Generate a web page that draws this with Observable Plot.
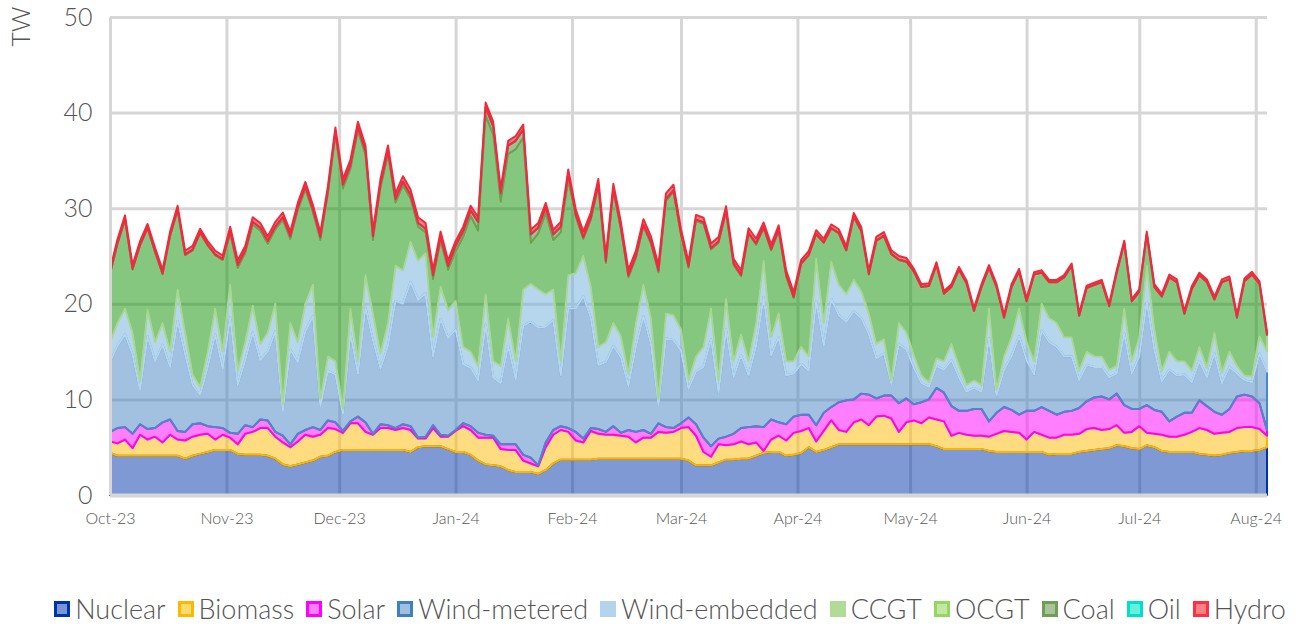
<!DOCTYPE html>
<html>
<head>
<meta charset="utf-8">
<script src="https://cdn.jsdelivr.net/npm/d3@7"></script>
<script src="https://cdn.jsdelivr.net/npm/@observablehq/plot@0.6"></script>
<style>
  html, body { margin: 0; padding: 0; background: #fff; }
  #chart { width: 1302px; height: 540px; }
  #legend { display: flex; justify-content: center; align-items: center; gap: 12px; padding-left: 38px;
    margin-top: 52px; font-family: Lato, "Open Sans", sans-serif; font-size: 27px; color: #555; font-weight: 300; }
  .item { display: flex; align-items: center; gap: 5px; }
  .sw { width: 16px; height: 16px; box-sizing: border-box; border: 3px solid; }
</style>
</head>
<body>
<div id="chart"></div>
<div id="legend"></div>
<script>
// Every 2 days from 1 Oct 2023 (155 points), values in TW
const startDate = "2023-10-01";
const stepDays = 2;

const nuclear = [4.4,4.1,4.1,4.1,4.1,4.1,4.1,4.1,4.1,4.1,3.8,4.1,4.3,4.5,4.7,4.7,
 4.7,4.3,4.2,4.2,4.2,4.1,3.8,3.2,3.0,3.2,3.4,3.6,4.0,4.1,4.5,
 4.7,4.7,4.7,4.7,4.7,4.7,4.7,4.7,4.7,4.5,5.0,5.1,5.1,5.1,4.8,
 4.5,4.5,4.2,3.6,3.2,3.1,3.0,2.6,2.4,2.4,2.4,2.2,2.6,3.3,3.7,3.7,
 3.7,3.7,3.7,3.8,3.8,3.8,3.8,3.8,3.8,3.8,3.8,3.8,3.8,3.8,
 3.8,3.6,3.1,3.1,3.1,3.4,3.7,3.7,3.8,3.8,4.1,4.4,4.5,4.5,4.1,4.2,
 4.4,5.0,4.5,4.7,5.0,5.3,5.3,5.3,5.3,5.3,5.3,5.3,5.3,5.3,5.3,
 5.3,5.3,5.3,5.1,4.8,4.8,4.8,4.8,4.8,4.8,4.6,4.5,4.5,4.5,4.5,4.5,
 4.5,4.5,4.2,4.3,4.3,4.3,4.5,4.6,4.7,4.8,4.9,5.2,5.1,4.9,4.8,
 5.2,5.0,4.6,4.5,4.5,4.5,4.5,4.3,4.2,4.1,4.2,4.4,4.5,4.6,4.6,
 4.7,5.0];

const biomass = [1.2,1.3,1.7,0.8,2.2,1.7,2.0,1.4,2.2,1.7,1.9,2.0,2.0,1.9,1.1,1.6,
 1.3,1.0,2.2,2.4,2.8,2.9,2.3,2.3,2.0,2.4,2.9,2.5,2.3,2.9,2.4,
 1.8,2.8,2.8,1.9,1.6,2.3,2.3,2.1,2.3,2.3,0.9,0.8,1.9,1.0,1.3,
 2.2,2.7,2.6,2.4,2.8,2.9,1.8,2.1,2.3,1.2,0.9,0.8,2.4,3.0,3.1,2.9,
 2.0,1.8,3.0,2.6,2.5,2.5,2.4,2.3,1.7,2.2,2.2,2.8,2.7,2.8,
 3.2,3.5,3.1,1.4,0.9,1.9,1.5,1.6,1.8,1.5,1.4,0.2,1.3,1.7,1.6,2.3,
 2.3,2.0,1.1,2.0,2.8,1.5,1.3,2.3,2.6,2.0,2.9,3.0,2.7,1.3,2.3,
 2.5,2.2,2.8,2.8,2.9,1.4,1.7,1.5,1.4,1.4,1.5,1.9,2.2,2.1,2.0,1.3,
 2.1,1.8,1.8,1.7,2.0,2.0,1.9,2.3,2.3,2.0,2.0,2.1,1.4,1.7,2.4,
 1.3,1.4,1.7,1.6,1.6,1.8,2.1,2.7,2.6,2.3,2.3,2.2,2.5,2.5,2.5,
 2.2,1.2];

const solar = [1.0,1.6,1.3,1.5,1.1,1.1,0.9,2.1,1.6,0.9,0.9,1.3,1.2,0.8,1.3,0.7,
 0.5,1.1,0.9,0.5,0.9,0.8,0.5,0.7,0.3,0.8,0.5,1.0,0.5,0.8,0.7,
 0.2,0.2,0.7,1.0,0.1,0.4,0.3,0.2,0.4,0.4,0.1,0.2,0.3,0.2,0.1,
 0.1,0.3,0.4,0.5,0.3,0.2,0.5,0.6,0.6,0.6,0.6,0.1,0.5,0.5,0.4,0.4,
 0.9,0.4,0.3,0.5,0.3,0.9,0.3,0.7,1.1,0.8,0.4,0.9,0.6,0.4,
 0.5,1.0,1.2,1.5,1.1,0.6,0.9,1.1,1.4,1.8,1.7,2.5,2.1,1.4,1.7,1.7,
 1.7,1.4,1.7,1.9,1.4,2.9,3.3,2.4,2.7,3.2,1.9,2.1,2.4,3.0,2.5,
 1.7,2.2,1.9,3.3,3.0,3.1,2.3,2.5,2.8,2.8,1.6,2.2,2.5,2.3,1.9,3.0,
 2.2,2.9,2.8,2.4,2.4,2.5,2.7,2.9,3.2,3.5,3.1,3.3,2.9,2.4,1.8,
 2.9,2.5,2.4,1.6,2.1,2.3,2.0,2.9,2.5,2.3,1.9,2.4,3.3,3.4,3.2,
 2.7,0.6];

const windMetered = [7.3,8.6,9.7,8.3,3.6,9.7,7.0,8.1,5.5,11.5,8.1,4.1,3.0,6.1,9.7,6.2,
 12.1,5.1,6.8,9.9,6.2,7.2,10.5,2.6,9.9,7.5,10.3,11.6,2.5,5.2,5.0,
 1.8,9.2,4.5,12.0,9.8,5.8,8.3,13.3,12.6,15.1,14.4,15.0,7.2,12.1,10.2,
 10.5,6.2,6.1,5.5,11.5,6.1,6.4,10.3,6.8,13.5,14.2,14.4,12.1,11.5,5.3,12.5,
 12.9,14.9,11.5,6.7,7.3,8.4,7.9,4.6,8.9,11.9,9.4,1.9,9.3,9.2,
 7.6,3.0,5.5,7.4,11.2,4.8,11.2,5.9,7.6,5.4,8.4,13.6,6.7,8.9,5.1,4.5,
 5.3,4.6,13.0,7.0,11.3,9.1,8.2,9.2,7.9,6.3,4.2,4.4,1.2,6.2,5.1,
 3.8,2.0,1.3,2.3,2.4,4.8,3.5,2.0,2.2,1.8,8.7,1.8,3.9,5.6,8.2,5.3,
 3.8,8.0,7.2,7.1,5.8,5.7,2.9,3.8,3.2,3.1,2.3,2.1,7.5,3.7,5.5,
 10.8,6.3,3.2,5.4,4.3,4.0,3.2,4.1,3.0,6.1,3.3,4.4,2.4,1.5,1.5,
 5.2,6.1];

const windEmbedded = [2.1,2.4,2.7,2.3,1.0,2.8,2.0,2.3,1.6,3.3,2.3,1.1,0.8,1.7,2.7,1.8,
 3.4,1.5,1.9,2.8,1.7,2.0,2.9,0.7,2.8,2.1,2.9,3.3,0.7,1.5,1.4,
 0.5,2.6,1.3,3.4,2.8,1.6,2.4,3.7,3.5,4.2,4.1,4.2,2.0,3.4,2.9,
 3.0,1.8,1.7,1.5,3.2,1.7,1.8,2.9,1.9,3.8,4.0,4.0,3.4,3.2,1.5,3.5,
 3.7,4.2,3.3,1.9,2.1,2.4,2.2,1.3,2.5,3.3,2.7,0.6,2.6,2.6,
 2.2,0.9,1.6,2.1,3.2,1.3,3.2,1.7,2.2,1.5,2.4,3.8,1.9,2.5,1.5,1.3,
 1.8,1.5,4.4,2.4,3.9,3.2,2.9,3.3,2.8,2.2,1.5,1.5,0.4,2.2,1.8,
 1.3,0.8,0.5,0.8,0.9,1.7,1.2,0.7,0.8,0.7,3.1,0.6,1.4,2.0,2.9,1.9,
 1.4,2.8,2.5,2.5,2.0,2.0,1.0,1.4,1.1,1.1,0.8,0.8,2.6,1.3,2.0,
 3.8,2.2,1.1,1.9,1.5,1.4,1.2,1.5,1.0,2.2,1.1,1.6,0.8,0.5,0.6,
 1.8,2.1];

const ccgt = [7.0,8.2,9.2,6.5,14.0,8.4,9.3,5.0,12.0,8.2,8.0,12.9,16.0,11.0,5.5,9.5,
 5.2,10.7,9.2,8.4,11.8,9.2,7.7,19.2,8.7,13.7,11.9,7.5,16.6,16.9,23.6,
 23.0,14.5,24.0,12.5,7.6,17.2,17.5,6.5,8.8,4.4,3.5,2.1,6.0,4.7,4.2,
 5.1,11.4,14.1,14.1,18.6,23.6,17.1,17.1,22.1,15.8,4.2,5.8,8.4,5.1,13.4,9.9,
 5.8,1.7,6.9,16.7,8.2,13.7,11.1,10.0,6.7,6.0,7.7,13.2,11.7,12.8,
 9.8,11.7,14.1,12.8,6.1,14.3,9.0,10.0,6.0,13.2,8.1,3.3,9.0,8.5,8.8,6.5,
 8.6,10.5,2.5,8.3,3.4,5.3,4.5,6.5,6.2,4.0,10.7,10.7,13.1,6.5,7.3,
 8.7,9.2,10.0,9.7,7.0,5.9,10.0,10.6,7.2,10.2,4.2,10.7,4.0,5.2,3.8,4.2,
 9.0,3.2,3.7,4.2,6.2,7.4,5.7,6.6,7.4,7.7,6.6,9.7,6.8,6.2,4.7,
 3.2,4.3,7.7,7.7,8.2,4.9,8.5,7.4,8.9,3.4,9.4,7.5,5.0,9.8,10.6,
 5.4,1.7];

const ocgt = [0.05,0.05,0.05,0.05,0.05,0.05,0.05,0.05,0.05,0.05,0.05,0.05,0.05,0.05,0.05,0.05,
 0.05,0.05,0.05,0.05,0.05,0.05,0.05,0.05,0.05,0.05,0.05,0.05,0.05,0.05,0.05,
 0.05,0.05,0.05,0.05,0.05,0.05,0.05,0.05,0.05,0.05,0.05,0.05,0.05,0.05,0.05,
 0.05,0.05,0.05,0.05,0.05,0.05,0.05,0.05,0.05,0.05,0.05,0.05,0.05,0.05,0.05,0.05,
 0.05,0.05,0.05,0.05,0.05,0.05,0.05,0.05,0.05,0.05,0.05,0.05,0.05,0.05,
 0.05,0.05,0.05,0.05,0.05,0.05,0.05,0.05,0.05,0.05,0.05,0.05,0.05,0.05,0.05,0.05,
 0.05,0.05,0.05,0.05,0.05,0.05,0.05,0.05,0.05,0.05,0.05,0.05,0.05,0.05,0.05,
 0.05,0.05,0.05,0.05,0.05,0.05,0.05,0.05,0.05,0.05,0.05,0.05,0.05,0.05,0.05,0.05,
 0.05,0.05,0.05,0.05,0.05,0.05,0.05,0.05,0.05,0.05,0.05,0.05,0.05,0.05,0.05,
 0.05,0.05,0.05,0.05,0.05,0.05,0.05,0.05,0.05,0.05,0.05,0.05,0.05,0.05,0.05,
 0.05,0.05];

const coal = [0.1,0.1,0.1,0.1,0.1,0.1,0.1,0.1,0.1,0.1,0.1,0.1,0.1,0.1,0.1,0.1,
 0.3,0.3,0.3,0.3,0.3,0.3,0.3,0.3,0.3,0.3,0.3,0.3,0.3,0.3,0.3,
 0.4,0.4,0.4,0.4,0.4,0.4,0.4,0.4,0.4,0.4,0.4,0.4,0.4,0.4,0.4,
 0.6,0.6,0.6,0.9,0.9,0.9,0.9,0.9,0.9,0.9,0.9,0.6,0.6,0.6,0.6,0.6,
 0.2,0.2,0.2,0.2,0.2,0.2,0.2,0.2,0.2,0.2,0.2,0.2,0.2,0.2,
 0.15,0.15,0.15,0.15,0.15,0.15,0.15,0.15,0.15,0.15,0.15,0.15,0.15,0.15,0.15,0.15,
 0.05,0.05,0.05,0.05,0.05,0.05,0.05,0.05,0.05,0.05,0.05,0.05,0.05,0.05,0.05,
 0,0,0,0,0,0,0,0,0,0,0,0,0,0,0,0,
 0,0,0,0,0,0,0,0,0,0,0,0,0,0,0,
 0,0,0,0,0,0,0,0,0,0,0,0,0,0,0,
 0,0];

const oil = [0,0,0,0,0,0,0,0,0,0,0,0,0,0,0,0,
 0,0,0,0,0,0,0,0,0,0,0,0,0,0,0,
 0,0,0,0,0,0,0,0,0,0,0,0,0,0,0,
 0,0,0,0,0,0,0,0,0,0,0,0,0,0,0,0,
 0,0,0,0,0,0,0,0,0,0,0,0,0,0,
 0,0,0,0,0,0,0,0,0,0,0,0,0,0,0,0,
 0,0,0,0,0,0,0,0,0,0,0,0,0,0,0,
 0,0,0,0,0,0,0,0,0,0,0,0,0,0,0,0,
 0,0,0,0,0,0,0,0,0,0,0,0,0,0,0,
 0,0,0,0,0,0,0,0,0,0,0,0,0,0,0,
 0,0];

const hydro = [0.4,0.4,0.4,0.4,0.4,0.4,0.4,0.4,0.4,0.4,0.4,0.4,0.4,0.4,0.4,0.4,
 0.5,0.5,0.5,0.5,0.5,0.5,0.5,0.5,0.5,0.5,0.5,0.5,0.5,0.5,0.5,
 0.6,0.6,0.6,0.6,0.6,0.6,0.6,0.6,0.6,0.6,0.6,0.6,0.6,0.6,0.6,
 0.5,0.5,0.5,0.5,0.5,0.5,0.5,0.5,0.5,0.5,0.5,0.5,0.5,0.5,0.5,0.5,
 0.6,0.6,0.6,0.6,0.6,0.6,0.6,0.6,0.6,0.6,0.6,0.6,0.6,0.6,
 0.5,0.5,0.5,0.5,0.5,0.5,0.5,0.5,0.5,0.5,0.5,0.5,0.5,0.5,0.5,0.5,
 0.4,0.4,0.4,0.4,0.4,0.4,0.4,0.4,0.4,0.4,0.4,0.4,0.4,0.4,0.4,
 0.3,0.3,0.3,0.3,0.3,0.3,0.3,0.3,0.3,0.3,0.3,0.3,0.3,0.3,0.3,0.3,
 0.25,0.25,0.25,0.25,0.25,0.25,0.25,0.25,0.25,0.25,0.25,0.25,0.25,0.25,0.25,
 0.3,0.3,0.3,0.3,0.3,0.3,0.3,0.3,0.3,0.3,0.3,0.3,0.3,0.3,0.3,
 0.3,0.3];

const seriesNames = ["Nuclear","Biomass","Solar","Wind-metered","Wind-embedded","CCGT","OCGT","Coal","Oil","Hydro"];
const seriesValues = [nuclear, biomass, solar, windMetered, windEmbedded, ccgt, ocgt, coal, oil, hydro];
const fillColors   = ["#0033aa","#ffba00","#ff00ff","#4581c1","#6dadde","#0c9000","#80d040","#418121","#00e0c8","#ff0010"];
const strokeColors = ["#0033aa","#ffb400","#ff00ff","#4a89c5","#b6d6f0","#a8d890","#90d860","#6e9e58","#00e0c8","#f02a3a"];
const legendBorder = ["#0033aa","#ffb800","#ff00ff","#3f80c0","#b4d4ee","#b0dc98","#90d860","#6e9e58","#00e0c8","#ff3040"];
const legendInner  = ["#7896d6","#ffdc70","#ff80ff","#a0c0de","#b4d4ee","#b0dc98","#c4e8a4","#a8c498","#66f0e0","#ff8088"];
const yTicks = [0, 10, 20, 30, 40, 50];
const yLabel = "TW";
const xTickFormat = "%b-%y";

const t0 = new Date(startDate + "T00:00:00Z");
const dates = nuclear.map((_, i) => new Date(+t0 + i * stepDays * 864e5));
const fillOf = {}, strokeOf = {};
seriesNames.forEach((s, k) => { fillOf[s] = fillColors[k]; strokeOf[s] = strokeColors[k]; });
const rows = [];
seriesNames.forEach((s, k) => seriesValues[k].forEach((v, i) => rows.push({date: dates[i], series: s, value: v})));
const xEnd = dates[dates.length - 1];
const monthTicks = d3.utcMonths(t0, new Date(+xEnd + 1));

const chart = Plot.plot({
  width: 1302, height: 540,
  marginLeft: 110, marginRight: 35, marginTop: 17, marginBottom: 45,
  style: {fontFamily: "Lato, 'Open Sans', sans-serif", color: "#555", background: "#fff"},
  x: {type: "utc", domain: [t0, xEnd]},
  y: {domain: [0, 50]},
  color: {type: "identity"},
  marks: [
    Plot.gridX(monthTicks, {stroke: "#d6d6d6", strokeOpacity: 1, strokeWidth: 3}),
    Plot.gridY(yTicks, {stroke: "#d6d6d6", strokeOpacity: 1, strokeWidth: 3}),
    Plot.areaY(rows, {x: "date", y: "value", z: "series",
      fill: d => fillOf[d.series], stroke: d => strokeOf[d.series],
      fillOpacity: 0.5, strokeWidth: 2, strokeLinejoin: "round"}),
    Plot.ruleY([0], {stroke: "#d6d6d6", strokeWidth: 4}),
    Plot.ruleX([t0], {stroke: "#d6d6d6", strokeWidth: 3}),
    Plot.axisY(yTicks, {tickSize: 0, tickPadding: 18, fontSize: 25, fontWeight: 300, label: null}),
    Plot.axisX(monthTicks, {tickSize: 0, tickPadding: 17, fontSize: 16, fontWeight: 300,
      tickFormat: d3.utcFormat(xTickFormat), label: null}),
    Plot.text([yLabel], {frameAnchor: "top-left", dx: -89, dy: 29, rotate: -90, textAnchor: "start",
      lineAnchor: "middle", fontSize: 25, fontWeight: 300, fill: "#555"})
  ]
});
document.getElementById("chart").appendChild(chart);

const legend = document.getElementById("legend");
seriesNames.forEach((s, k) => {
  const item = document.createElement("div");
  item.className = "item";
  const sw = document.createElement("span");
  sw.className = "sw";
  sw.style.borderColor = legendBorder[k];
  sw.style.background = legendInner[k];
  const tx = document.createElement("span");
  tx.textContent = s;
  item.appendChild(sw); item.appendChild(tx);
  legend.appendChild(item);
});
</script>
</body>
</html>
